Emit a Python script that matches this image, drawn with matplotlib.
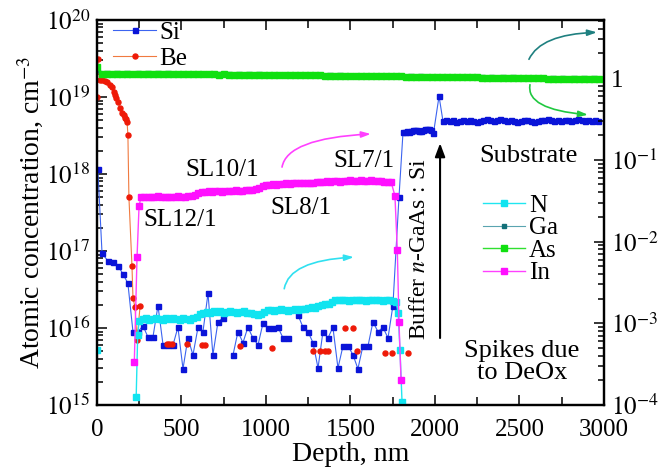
import numpy as np
import matplotlib
matplotlib.use("Agg")
import matplotlib.pyplot as plt
from matplotlib.ticker import FixedLocator, LogLocator, NullFormatter, MultipleLocator, FuncFormatter

plt.rcParams['font.family'] = ['Liberation Serif', 'DejaVu Serif']
plt.rcParams['mathtext.fontset'] = 'stix'

# ---- Si (left axis), log10 of concentration ----
si_depth = [5, 30, 65, 95, 124, 154, 183, 213, 243, 272, 302, 331, 361, 391, 420, 450,
            479, 509, 538, 568, 598, 627, 657, 686, 716, 746, 775, 805, 834, 864, 893,
            923, 953, 982, 1012, 1041, 1071, 1101, 1130, 1160, 1189, 1219, 1249, 1278,
            1308, 1337, 1367, 1396, 1426, 1456, 1485, 1515, 1544, 1574, 1604, 1633, 1663,
            1692, 1722, 1751, 1787]
si_log = [18.07, 16.97, 16.87, 16.86, 16.81, 16.70, 16.58, 15.95, 15.95, 16.03, 15.88,
          15.88, 16.29, 15.78, 15.78, 15.78, 16.01, 15.47, 15.87, 15.65, 16.01, 15.95,
          16.45, 15.65, 16.08, 16.13, np.nan, 15.65, 15.95, 15.81, 16.01, 15.87, 15.78,
          16.06, 16.00, 16.00, 16.01, 15.87, 15.87, np.nan, 16.17, 16.01, 15.95, 15.81,
          15.48, 15.95, 15.87, 16.01, 15.48, 15.77, 15.77, 15.65, 15.47, 15.77, 15.77,
          16.08, 15.95, 16.01, 15.87, 16.29, 17.70]
si_buffer_depth = np.arange(1811, 1992, 12)
si_buffer_log = [18.55, 18.55, 18.56, 18.55, 18.56, 18.57, 18.57, 18.57, 18.56, 18.56,
                 18.57, 18.58, 18.58, 18.58, 18.57, 18.53]
si_spike_depth = [2024]
si_spike_log = [19.01]
si_sub_depth = np.arange(2047, 2968, 20)
si_sub_log = [18.69, 18.70, 18.69, 18.70, 18.68, 18.69, 18.70, 18.69, 18.70, 18.69,
              18.68, 18.69, 18.70, 18.71, 18.70, 18.69, 18.70, 18.71, 18.70, 18.69,
              18.70, 18.69, 18.68, 18.69, 18.70, 18.70, 18.69, 18.68, 18.69, 18.70,
              18.70, 18.71, 18.70, 18.69, 18.70, 18.69, 18.70, 18.70, 18.69, 18.70,
              18.71, 18.70, 18.69, 18.70, 18.69, 18.70, 18.69]

# ---- Be (left axis) ----
be_depth = [0, 4, 15, 30, 45, 59, 75, 89, 100, 106, 115, 124, 136, 148, 157, 166, 172,
            178, 183, 189, 207, 213, 225, 237, 255, 330,
            414, 429, 444, 490, 533, 580, 621, 639, 750, 846, 950, 1035, 1150,
            1278, 1300, 1320, 1335, 1349, 1360, 1367, 1420, 1467, 1490, 1515, 1525,
            1538, 1620, 1704, 1725, 1746, 1800, 1840]
be_log = [19.00, 19.50, 19.22, 19.22, 19.21, 19.19, 19.16, 19.13, 19.07, 19.03, 18.99,
          18.94, 18.86, 18.79, 18.76, 18.73, 18.71, 18.68, 18.51, 17.70, 16.81, 16.39,
          16.27, 15.85, 16.28, np.nan,
          15.79, 15.79, 15.79, np.nan, 15.79, np.nan, 15.78, 15.78, np.nan, 15.77,
          np.nan, 15.74, np.nan,
          15.70, np.nan, 15.70, np.nan, 15.70, np.nan, 15.70, np.nan, 16.00, np.nan,
          16.00, np.nan, 15.70, np.nan, 15.68, np.nan, 15.68, np.nan, 15.68]

# ---- N (right axis, log10 of ratio) ----
n_head_depth = [0, 120, 232, 241]
n_head_log = [-3.33, np.nan, -3.90, -3.14]
n_depth = np.arange(250, 1771, 20)
n_log = [-2.97, -2.95, -2.94, -2.96, -2.95, -2.94, -2.95, -2.96, -2.94, -2.95, -2.94,
         -2.95, -2.96, -2.94, -2.95, -2.96, -2.94, -2.92,
         -2.89, -2.87, -2.86, -2.87, -2.85, -2.86, -2.85, -2.87, -2.86, -2.85, -2.86,
         -2.87, -2.86, -2.85, -2.87, -2.88, -2.89,
         -2.90, -2.89, -2.86, -2.84, -2.84, -2.85, -2.84, -2.83, -2.84, -2.85, -2.84, -2.83,
         -2.84, -2.83, -2.82, -2.81, -2.80, -2.81, -2.79, -2.78, -2.77, -2.76, -2.74, -2.72,
         -2.72, -2.71, -2.72, -2.73, -2.72, -2.71, -2.72, -2.71, -2.73, -2.72, -2.71,
         -2.72, -2.72, -2.73, -2.71, -2.72, -2.73, -2.74]
n_tail_depth = [1782, 1793, 1805]
n_tail_log = [-2.87, -3.33, -3.96]

# ---- Ga, As (right axis) ----
ga_depth = np.arange(0, 3000, 60)
ga_log = [0.100, 0.063, 0.062, 0.061, 0.060, 0.058, 0.057, 0.056, 0.055, 0.054,
          0.052, 0.051, 0.050, 0.048, 0.047, 0.046, 0.044, 0.043, 0.042, 0.040,
          0.039, 0.037, 0.036, 0.034, 0.033, 0.031, 0.030, 0.028, 0.027, 0.025,
          0.024, 0.022, 0.021, 0.019, 0.018, 0.016, 0.015, 0.013, 0.012, 0.010,
          0.009, 0.007, 0.006, 0.004, 0.003, 0.001, 0.000, -0.002, -0.003, -0.005]
as_depth = np.arange(0, 3000, 30)
as_log = [0.130, 0.055, 0.054, 0.055, 0.053, 0.054, 0.052, 0.053, 0.051, 0.052,
          0.050, 0.051, 0.049, 0.050, 0.048, 0.049, 0.047, 0.048, 0.046, 0.047,
          0.045, 0.046, 0.044, 0.045, 0.043, 0.044, 0.042, 0.043, 0.041, 0.042,
          0.040, 0.041, 0.039, 0.040, 0.038, 0.037, 0.038, 0.036, 0.037, 0.035,
          0.034, 0.035, 0.033, 0.032, 0.033, 0.031, 0.030, 0.031, 0.029, 0.028,
          0.027, 0.028, 0.026, 0.025, 0.024, 0.025, 0.023, 0.022, 0.021, 0.022,
          0.020, 0.019, 0.018, 0.017, 0.018, 0.016, 0.015, 0.014, 0.013, 0.012,
          0.011, 0.010, 0.009, 0.008, 0.009, 0.007, 0.006, 0.005, 0.004, 0.003,
          0.002, 0.001, 0.000, -0.001, -0.002, -0.001, -0.003, -0.004, -0.005, -0.006,
          -0.007, -0.008, -0.009, -0.010, -0.011, -0.012, -0.013, -0.014, -0.015, -0.016]

# ---- In (right axis) ----
in_head_depth = [221, 237, 249]
in_head_log = [-3.47, -2.19, -1.57]
in_depth = np.arange(260, 1751, 20)
in_log = [-1.46, -1.45, -1.45, -1.46, -1.45, -1.44, -1.45, -1.45, -1.46, -1.45, -1.45,
          -1.44, -1.45, -1.45, -1.44, -1.44, -1.43,
          -1.41, -1.39, -1.39, -1.38, -1.39, -1.38, -1.38, -1.39, -1.38, -1.38, -1.38,
          -1.37, -1.38, -1.38, -1.37, -1.37, -1.37, -1.36,
          -1.34, -1.32, -1.31, -1.31, -1.30, -1.31, -1.30, -1.30, -1.29, -1.30, -1.29,
          -1.29, -1.28, -1.29, -1.28, -1.28, -1.28, -1.27,
          -1.27, -1.27, -1.26, -1.27, -1.26, -1.26, -1.27, -1.26, -1.26, -1.25, -1.26,
          -1.26, -1.25, -1.26, -1.26, -1.25, -1.26, -1.26, -1.26, -1.27, -1.27, -1.27]
in_tail_depth = [1763, 1777, 1787, 1799]
in_tail_log = [-1.44, -2.10, -2.98, -3.69]

FS = 18

fig = plt.figure(figsize=(6.72, 4.70), dpi=100)
ax = fig.add_axes([0.1443, 0.1383, 0.7545, 0.8191])
ax2 = ax.twinx()

si_x = np.concatenate([si_depth, si_buffer_depth, si_spike_depth, si_sub_depth])
si_y = 10 ** np.concatenate([si_log, si_buffer_log, si_spike_log, si_sub_log])
l_si, = ax.plot(si_x, si_y, '-', color='#3c64f0', lw=0.8, marker='s', ms=3.6,
                mfc='#0a14d8', mec='#0a14d8', label='Si')
l_be, = ax.plot(be_depth, 10 ** np.array(be_log), '-', color='#f07a40', lw=0.8,
                marker='o', ms=3.6, mfc='#ee1a08', mec='#ee1a08', label='Be')

l_ga, = ax2.plot(ga_depth, 10 ** np.array(ga_log), '-', color='#5aa4b0', lw=0.8,
                 marker='s', ms=3.2, mfc='#137078', mec='#137078', label='Ga')
l_as, = ax2.plot(as_depth, 10 ** np.array(as_log), '-', color='#30e030', lw=1.0,
                 marker='s', ms=4.6, mfc='#10e010', mec='#10e010', label='As')
n_x = np.concatenate([n_head_depth, n_depth, n_tail_depth])
n_y = 10 ** np.concatenate([n_head_log, n_log, n_tail_log])
l_n, = ax2.plot(n_x, n_y, '-', color='#20e6f0', lw=1.0, marker='s', ms=4.0,
                mfc='#10e4f0', mec='#10e4f0', label='N')
in_x = np.concatenate([in_head_depth, in_depth, in_tail_depth])
in_y = 10 ** np.concatenate([in_head_log, in_log, in_tail_log])
l_in, = ax2.plot(in_x, in_y, '-', color='#ff40ff', lw=1.0, marker='s', ms=4.0,
                 mfc='#ff10ff', mec='#ff10ff', label='In')

ax.set_yscale('log')
ax2.set_yscale('log')
ax.set_xlim(0, 3000)
ax.set_ylim(1e15, 1e20)
ax2.set_ylim(1e-4, 10 ** 0.71)

ax.xaxis.set_major_locator(MultipleLocator(500))
ax.xaxis.set_minor_locator(MultipleLocator(250))
ax.xaxis.set_major_formatter(FuncFormatter(lambda v, p: '%d' % v))
ax.yaxis.set_major_locator(LogLocator(base=10, numticks=10))
ax.yaxis.set_minor_locator(LogLocator(base=10, subs=np.arange(2, 10), numticks=20))
ax.yaxis.set_minor_formatter(NullFormatter())
ax.yaxis.set_major_formatter(FuncFormatter(lambda v, p: r'$10^{%d}$' % round(np.log10(v))))
ax2.yaxis.set_major_locator(FixedLocator([1e-4, 1e-3, 1e-2, 1e-1, 1]))
ax2.yaxis.set_minor_locator(LogLocator(base=10, subs=np.arange(2, 10), numticks=20))
ax2.yaxis.set_minor_formatter(NullFormatter())
ax2.yaxis.set_major_formatter(FuncFormatter(
    lambda v, p: '1' if abs(v - 1) < 1e-9 else r'$10^{%d}$' % round(np.log10(v))))

for a in (ax, ax2):
    for s in a.spines.values():
        s.set_linewidth(1.6)
ax.tick_params(which='both', direction='in', top=True, labelsize=FS, width=1.1)
ax.tick_params(which='major', length=7, pad=5)
ax.tick_params(which='minor', length=4)
ax.tick_params(axis='x', which='minor', length=6)
ax.tick_params(axis='x', which='major', pad=10)
ax2.tick_params(which='both', direction='in', labelsize=FS, width=1.1)
ax2.tick_params(which='major', length=7, pad=5)
ax2.tick_params(which='minor', length=4)

ax.set_xlabel('Depth, nm', fontsize=20, labelpad=1)
ax.set_ylabel(r'Atomic concentration, cm$^{-3}$', fontsize=20, labelpad=0)

leg1 = ax.legend(handles=[l_si, l_be], loc='upper left', bbox_to_anchor=(0.02, 1.012),
                 frameon=False, fontsize=FS, handlelength=1.7, handletextpad=0.15,
                 labelspacing=0.12, borderaxespad=0.15, borderpad=0.1)
leg2 = ax2.legend(handles=[l_n, l_ga, l_as, l_in], loc='center left',
                  bbox_to_anchor=(0.731, 0.43), frameon=False, fontsize=FS,
                  handlelength=1.7, handletextpad=0.15, labelspacing=0.0,
                  borderpad=0.1)

# text annotations (left-axis data coordinates)
ax.text(491, 10 ** 17.40, 'SL12/1', fontsize=FS, ha='center', va='center')
ax.text(740, 10 ** 18.05, 'SL10/1', fontsize=FS, ha='center', va='center')
ax.text(1207, 10 ** 17.56, 'SL8/1', fontsize=FS, ha='center', va='center')
ax.text(1580, 10 ** 18.17, 'SL7/1', fontsize=FS, ha='center', va='center')
ax.text(2550, 10 ** 18.23, 'Substrate', fontsize=19, ha='center', va='center')
ax.text(2515, 10 ** 15.56, 'Spikes due\nto DeOx', fontsize=19, ha='center',
        va='center', linespacing=1.0)
ax.text(1910, 10 ** 17.02, r'Buffer $n$-GaAs$\,:\,$Si', fontsize=17, ha='center',
        va='center', rotation=90)

# arrows
head = '-|>,head_length=0.55,head_width=0.18'
ax.annotate('', xy=(2030, 10 ** 18.40), xytext=(2030, 10 ** 15.87),
            arrowprops=dict(arrowstyle='-|>,head_length=0.8,head_width=0.3',
                            color='black', lw=1.5, shrinkA=0, shrinkB=0))
ax.annotate('', xy=(1620, 10 ** 18.52), xytext=(1095, 10 ** 18.09),
            arrowprops=dict(arrowstyle=head, color='#ff40ff', lw=1.2, shrinkA=0,
                            shrinkB=0, connectionstyle='angle3,angleA=80,angleB=3'))
ax.annotate('', xy=(1520, 10 ** 16.92), xytext=(1108, 10 ** 16.51),
            arrowprops=dict(arrowstyle=head, color='#30e0f0', lw=1.2, shrinkA=0,
                            shrinkB=0, connectionstyle='angle3,angleA=80,angleB=3'))
ax.annotate('', xy=(2958, 10 ** 19.84), xytext=(2556, 10 ** 19.49),
            arrowprops=dict(arrowstyle=head, color='#1f8080', lw=1.2, shrinkA=0,
                            shrinkB=0, connectionstyle='angle3,angleA=65,angleB=2'))
ax.annotate('', xy=(2905, 10 ** 18.77), xytext=(2562, 10 ** 19.16),
            arrowprops=dict(arrowstyle=head, color='#20c840', lw=1.2, shrinkA=0,
                            shrinkB=0, connectionstyle='angle3,angleA=-100,angleB=-5'))

fig.savefig('out.png', dpi=100)
